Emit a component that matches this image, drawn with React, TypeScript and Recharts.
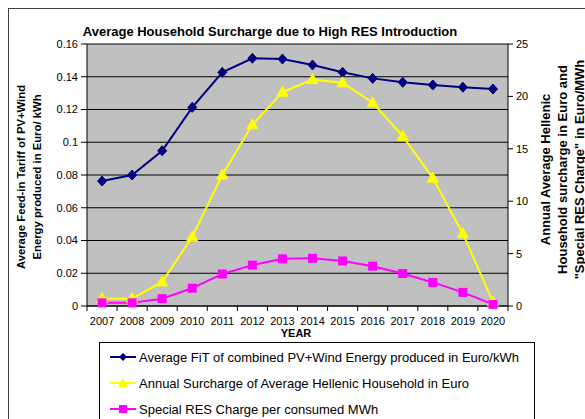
import React from 'react';
import { LineChart, Line, XAxis, YAxis, CartesianGrid } from 'recharts';

const years = ['2007', '2008', '2009', '2010', '2011', '2012', '2013', '2014', '2015', '2016', '2017', '2018', '2019', '2020'];
const fitValues = [0.0763, 0.08, 0.0948, 0.1213, 0.1427, 0.1513, 0.1508, 0.1472, 0.1427, 0.139, 0.1366, 0.135, 0.1336, 0.1325];
const surchargeValues = [0.7, 0.7, 2.3, 6.6, 12.5, 17.3, 20.4, 21.6, 21.3, 19.4, 16.2, 12.2, 6.9, 0.4];
const specialValues = [0.3, 0.3, 0.7, 1.7, 3.05, 3.9, 4.5, 4.55, 4.3, 3.8, 3.1, 2.25, 1.3, 0.15];
const leftTicks = [0, 0.02, 0.04, 0.06, 0.08, 0.1, 0.12, 0.14, 0.16];
const rightTicks = [0, 5, 10, 15, 20, 25];

const seriesNames = [
  'Average FiT of combined PV+Wind Energy produced in Euro/kWh',
  'Annual Surcharge of Average Hellenic Household in Euro',
  'Special RES Charge per consumed MWh',
];

const NAVY = '#000080';
const YELLOW = '#FFFF00';
const MAGENTA = '#FF00FF';
const FONT = 'Arial, "Liberation Sans", sans-serif';

const data = years.map((year, i) => ({
  year,
  fit: fitValues[i],
  surcharge: surchargeValues[i],
  special: specialValues[i],
}));

const BAND = 421 / years.length;

const Diamond = ({ cx, cy }: any) =>
  cx == null ? null : (
    <path d={`M${cx},${cy - 5}L${cx + 4.5},${cy}L${cx},${cy + 5}L${cx - 4.5},${cy}Z`} fill={NAVY} stroke={NAVY} />
  );

const Triangle = ({ cx, cy }: any) =>
  cx == null ? null : (
    <path d={`M${cx},${cy - 6}L${cx + 5.5},${cy + 4}L${cx - 5.5},${cy + 4}Z`} fill={YELLOW} stroke={YELLOW} />
  );

const Square = ({ cx, cy }: any) =>
  cx == null ? null : <rect x={cx - 4.5} y={cy - 4.5} width={9} height={9} fill={MAGENTA} />;

// tick marks sit on the category boundaries, labels in the middle
const YearTick = ({ x, y, payload, index }: any) => (
  <g>
    <line x1={x - BAND / 2} x2={x - BAND / 2} y1={y} y2={y + 5} stroke="#000" />
    {index === years.length - 1 && <line x1={x + BAND / 2} x2={x + BAND / 2} y1={y} y2={y + 5} stroke="#000" />}
    <text x={x} y={y + 19} textAnchor="middle" fontSize={11} fill="#000" fontFamily={FONT}>
      {payload.value}
    </text>
  </g>
);

const LegendIcon = ({ kind, color }: { kind: string; color: string }) => (
  <svg width={26} height={12} style={{ display: 'block' }}>
    <line x1={0} x2={26} y1={6} y2={6} stroke={color} strokeWidth={2} />
    {kind === 'diamond' && <path d="M13,2L17,6L13,10L9,6Z" fill={color} />}
    {kind === 'triangle' && <path d="M13,1L18,10L8,10Z" fill={color} />}
    {kind === 'square' && <rect x={9} y={2} width={8} height={8} fill={color} />}
  </svg>
);

const legendItems = [
  { name: seriesNames[0], kind: 'diamond', color: NAVY },
  { name: seriesNames[1], kind: 'triangle', color: YELLOW },
  { name: seriesNames[2], kind: 'square', color: MAGENTA },
];

export default function App() {
  return (
    <div
      style={{
        position: 'fixed',
        left: 8,
        top: 8,
        width: 577,
        height: 411,
        overflow: 'hidden',
        borderTop: '1px solid #404040',
        borderLeft: '1px solid #404040',
        background: '#fff',
        fontFamily: FONT,
      }}
    >
      <div style={{ position: 'absolute', left: -1, top: -1 }}>
        <LineChart width={577} height={411} data={data} margin={{ top: 36, right: 27, bottom: 83, left: 19 }}>
          <CartesianGrid vertical={false} stroke="#000" fill="#C0C0C0" yAxisId="left" />
          <XAxis
            dataKey="year"
            scale="band"
            height={30}
            axisLine={{ stroke: '#000' }}
            tickLine={false}
            tickSize={0}
            tickMargin={0}
            interval={0}
            tick={<YearTick />}
          />
          <YAxis
            yAxisId="left"
            width={60}
            domain={[0, 0.16]}
            ticks={leftTicks}
            tickFormatter={(v) => String(Number(v.toFixed(2)))}
            axisLine={{ stroke: '#000' }}
            tickLine={{ stroke: '#000' }}
            tickSize={6}
            tickMargin={3}
            tick={{ fill: '#000', fontSize: 11, fontFamily: FONT }}
          />
          <YAxis
            yAxisId="right"
            orientation="right"
            width={50}
            domain={[0, 25]}
            ticks={rightTicks}
            axisLine={{ stroke: '#000' }}
            tickLine={{ stroke: '#000' }}
            tickSize={5}
            tickMargin={3}
            tick={{ fill: '#000', fontSize: 11, fontFamily: FONT }}
          />
          <Line yAxisId="left" dataKey="fit" stroke={NAVY} strokeWidth={2} dot={<Diamond />} isAnimationActive={false} />
          <Line yAxisId="right" dataKey="surcharge" stroke={YELLOW} strokeWidth={2} dot={<Triangle />} isAnimationActive={false} />
          <Line yAxisId="right" dataKey="special" stroke={MAGENTA} strokeWidth={2} dot={<Square />} isAnimationActive={false} />
        </LineChart>
      </div>

      <div
        style={{
          position: 'absolute',
          left: 261 - 250,
          width: 500,
          top: 15,
          textAlign: 'center',
          fontWeight: 'bold',
          fontSize: 13,
          whiteSpace: 'nowrap',
        }}
      >
        Average Household Surcharge due to High RES Introduction
      </div>

      <div
        style={{
          position: 'absolute',
          left: 20 - 150,
          top: 168 - 16,
          width: 300,
          textAlign: 'center',
          fontWeight: 'bold',
          fontSize: 11.3,
          lineHeight: '16px',
          transform: 'rotate(-90deg)',
        }}
      >
        Average Feed-in Tariff of PV+Wind
        <br />
        Energy produced in Euro/ kWh
      </div>

      <div
        style={{
          position: 'absolute',
          left: 553 - 150,
          top: 161 - 26,
          width: 300,
          textAlign: 'center',
          fontWeight: 'bold',
          fontSize: 13,
          lineHeight: '17px',
          transform: 'rotate(-90deg)',
        }}
      >
        Annual Average Hellenic
        <br />
        Household surcharge in Euro and
        <br />
        "Special RES Charge" in Euro/MWh
      </div>

      <div style={{ position: 'absolute', left: 287 - 50, width: 100, top: 318, textAlign: 'center', fontWeight: 'bold', fontSize: 11 }}>
        YEAR
      </div>

      <div
        style={{
          position: 'absolute',
          left: 90,
          top: 333,
          width: 434,
          height: 120,
          border: '1px solid #000',
          background: '#fff',
        }}
      >
        {legendItems.map((item, i) => (
          <div
            key={item.name}
            style={{ position: 'absolute', left: 10, top: 6 + i * 26, display: 'flex', alignItems: 'center', height: 16, fontSize: 13 }}
          >
            <LegendIcon kind={item.kind} color={item.color} />
            <span style={{ marginLeft: 3, whiteSpace: 'nowrap' }}>{item.name}</span>
          </div>
        ))}
      </div>
    </div>
  );
}
